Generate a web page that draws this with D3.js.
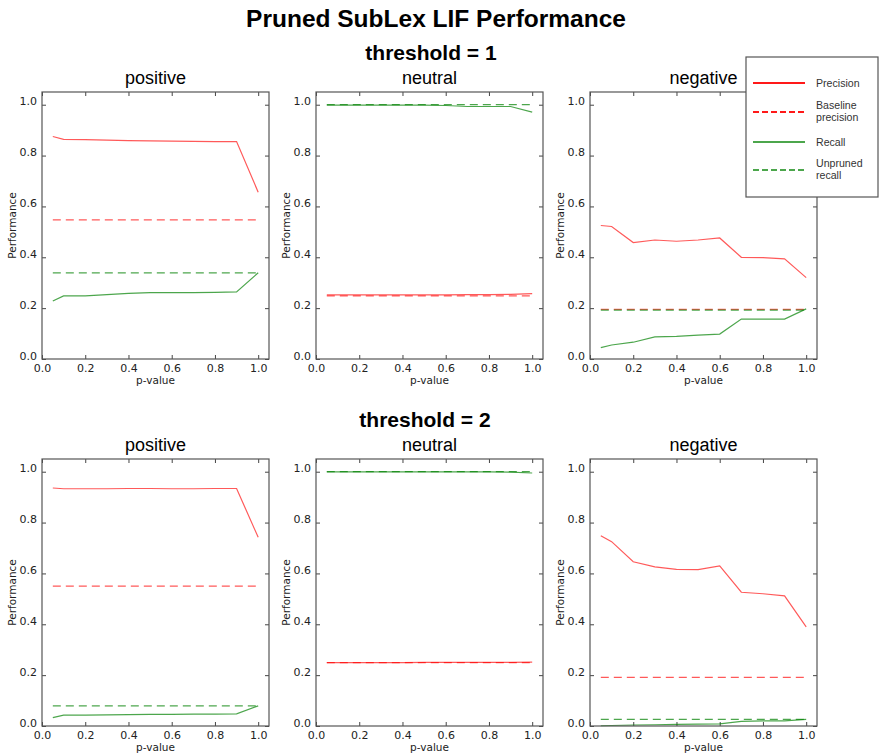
<!DOCTYPE html>
<html>
<head>
<meta charset="utf-8">
<script src="https://cdn.jsdelivr.net/npm/d3@7"></script>
<style>
  body { margin: 0; background: #fff; }
  svg { display: block; }
  .tick text { font-family: "DejaVu Sans", sans-serif; font-size: 11px; fill: #222; }
  .tick line { stroke: #444; }
</style>
</head>
<body>
<svg id="chart"></svg>
<script>
// p-values on the x axis
const pValues = [0.05, 0.1, 0.2, 0.3, 0.4, 0.5, 0.6, 0.7, 0.8, 0.9, 1.0];
const classes = ['positive', 'neutral', 'negative'];
const thresholds = ['threshold = 1', 'threshold = 2'];
const tickValues = [0, 0.2, 0.4, 0.6, 0.8, 1.0];

// threshold = 1
const t1PosPrecision = [0.875, 0.864, 0.863, 0.861, 0.859, 0.858, 0.857, 0.856, 0.855, 0.855, 0.656];
const t1PosBaseline = 0.547;
const t1PosRecall = [0.228, 0.248, 0.248, 0.253, 0.258, 0.261, 0.261, 0.261, 0.262, 0.264, 0.339];
const t1PosUnpruned = 0.339;

const t1NeuPrecision = [0.252, 0.252, 0.252, 0.252, 0.252, 0.252, 0.252, 0.253, 0.253, 0.254, 0.257];
const t1NeuBaseline = 0.248;
const t1NeuRecall = [0.998, 0.998, 0.998, 0.998, 0.998, 0.998, 0.997, 0.993, 0.993, 0.993, 0.971];
const t1NeuUnpruned = 1.0;

const t1NegPrecision = [0.525, 0.521, 0.458, 0.468, 0.463, 0.468, 0.476, 0.400, 0.399, 0.394, 0.320];
const t1NegBaseline = 0.195;
const t1NegRecall = [0.045, 0.055, 0.066, 0.087, 0.089, 0.094, 0.098, 0.157, 0.157, 0.157, 0.197];
const t1NegUnpruned = 0.192;

// threshold = 2
const t2PosPrecision = [0.936, 0.933, 0.933, 0.933, 0.934, 0.934, 0.933, 0.933, 0.934, 0.934, 0.742];
const t2PosBaseline = 0.55;
const t2PosRecall = [0.033, 0.043, 0.043, 0.044, 0.045, 0.046, 0.046, 0.047, 0.047, 0.048, 0.079];
const t2PosUnpruned = 0.079;

const t2NeuPrecision = [0.249, 0.249, 0.249, 0.249, 0.249, 0.250, 0.250, 0.250, 0.250, 0.250, 0.251];
const t2NeuBaseline = 0.249;
const t2NeuRecall = [0.999, 0.999, 0.999, 0.999, 0.999, 0.999, 0.999, 0.999, 0.999, 0.998, 0.995];
const t2NeuUnpruned = 1.0;

const t2NegPrecision = [0.748, 0.725, 0.646, 0.626, 0.616, 0.615, 0.630, 0.526, 0.520, 0.512, 0.390];
const t2NegBaseline = 0.191;
const t2NegRecall = [0.001, 0.002, 0.004, 0.005, 0.006, 0.007, 0.008, 0.018, 0.020, 0.020, 0.026];
const t2NegUnpruned = 0.026;

const legendLabels = [['Precision'], ['Baseline', 'precision'], ['Recall'], ['Unpruned', 'recall']];

const panels = [
  [ {precision: t1PosPrecision, baseline: t1PosBaseline, recall: t1PosRecall, unpruned: t1PosUnpruned},
    {precision: t1NeuPrecision, baseline: t1NeuBaseline, recall: t1NeuRecall, unpruned: t1NeuUnpruned},
    {precision: t1NegPrecision, baseline: t1NegBaseline, recall: t1NegRecall, unpruned: t1NegUnpruned} ],
  [ {precision: t2PosPrecision, baseline: t2PosBaseline, recall: t2PosRecall, unpruned: t2PosUnpruned},
    {precision: t2NeuPrecision, baseline: t2NeuBaseline, recall: t2NeuRecall, unpruned: t2NeuUnpruned},
    {precision: t2NegPrecision, baseline: t2NegBaseline, recall: t2NegRecall, unpruned: t2NegUnpruned} ]
];

const width = 880, height = 755;
const panelW = 227, panelH = 267;
const panelX = [42, 316, 590];
const rowY = [92, 459];
const red = '#ff0000', green = '#008000';
const sansFont = '"Liberation Sans", Arial, sans-serif';

const svg = d3.select('#chart')
    .attr('width', width)
    .attr('height', height);

svg.append('text')
    .attr('x', 436)
    .attr('y', 27)
    .attr('text-anchor', 'middle')
    .style('font-family', sansFont)
    .style('font-weight', 'bold')
    .style('font-size', '24.5px')
    .text('Pruned SubLex LIF Performance');

const xScale = d3.scaleLinear().domain([0, 1.05]).range([0, panelW]);
const yScale = d3.scaleLinear().domain([0, 1.05]).range([panelH, 0]);

const line = d3.line()
    .x((d, i) => xScale(pValues[i]))
    .y(d => yScale(d));

thresholds.forEach((label, r) => {
  // row heading
  svg.append('text')
      .attr('x', r === 0 ? 431 : 425)
      .attr('y', rowY[r] - 32)
      .attr('text-anchor', 'middle')
      .style('font-family', sansFont)
      .style('font-weight', 'bold')
      .style('font-size', '21px')
      .text(label);

  classes.forEach((cls, c) => {
    const d = panels[r][c];
    const g = svg.append('g')
        .attr('transform', `translate(${panelX[c]},${rowY[r]})`);

    g.append('text')
        .attr('x', panelW / 2)
        .attr('y', -8.5)
        .attr('text-anchor', 'middle')
        .style('font-family', sansFont)
        .style('font-size', '18px')
        .text(cls);

    // axes with inward ticks on all four sides
    g.append('g')
        .attr('transform', `translate(0,${panelH})`)
        .call(d3.axisBottom(xScale).tickValues(tickValues).tickSize(-4).tickPadding(5).tickFormat(d3.format('.1f')))
        .call(a => a.select('.domain').remove());
    g.append('g')
        .call(d3.axisTop(xScale).tickValues(tickValues).tickSize(-4).tickFormat(''))
        .call(a => a.select('.domain').remove());
    g.append('g')
        .call(d3.axisLeft(yScale).tickValues(tickValues).tickSize(-4).tickPadding(5).tickFormat(d3.format('.1f')))
        .call(a => a.select('.domain').remove());
    g.append('g')
        .attr('transform', `translate(${panelW},0)`)
        .call(d3.axisRight(yScale).tickValues(tickValues).tickSize(-4).tickFormat(''))
        .call(a => a.select('.domain').remove());

    g.selectAll('.tick text').attr('dy', null);
    g.selectAll('.tick text').filter(function () { return this.parentNode.parentNode.getAttribute('transform'); })
        .attr('dy', '0.71em');

    // series
    const flat = v => pValues.map(() => v);
    g.append('path').datum(flat(d.baseline)).attr('d', line)
        .attr('fill', 'none').attr('stroke', red).attr('stroke-opacity', 0.65)
        .attr('stroke-width', 1.2).attr('stroke-dasharray', '8,5');
    g.append('path').datum(flat(d.unpruned)).attr('d', line)
        .attr('fill', 'none').attr('stroke', green).attr('stroke-opacity', 0.7)
        .attr('stroke-width', 1.2).attr('stroke-dasharray', '8,5');
    g.append('path').datum(d.precision).attr('d', line)
        .attr('fill', 'none').attr('stroke', red).attr('stroke-opacity', 0.65)
        .attr('stroke-width', 1.2);
    g.append('path').datum(d.recall).attr('d', line)
        .attr('fill', 'none').attr('stroke', green).attr('stroke-opacity', 0.7)
        .attr('stroke-width', 1.2);

    g.append('rect')
        .attr('width', panelW)
        .attr('height', panelH)
        .attr('fill', 'none')
        .attr('stroke', '#555')
        .attr('stroke-width', 1.2);

    g.append('text')
        .attr('x', panelW / 2)
        .attr('y', panelH + 25)
        .attr('text-anchor', 'middle')
        .style('font-family', '"DejaVu Sans", sans-serif')
        .style('font-size', '10.5px')
        .style('fill', '#222')
        .text('p-value');

    g.append('text')
        .attr('transform', `translate(-26,${panelH / 2}) rotate(-90)`)
        .attr('text-anchor', 'middle')
        .style('font-family', '"DejaVu Sans", sans-serif')
        .style('font-size', '10.5px')
        .style('fill', '#222')
        .text('Performance');
  });
});

// legend
const legend = svg.append('g').attr('transform', 'translate(746,57)');
legend.append('rect')
    .attr('width', 132)
    .attr('height', 140)
    .attr('fill', '#fff')
    .attr('stroke', '#555')
    .attr('stroke-width', 1.2);

const legendStyles = [
  {color: red, dash: null, y: 26},
  {color: red, dash: '6,3', y: 55},
  {color: green, dash: null, y: 85},
  {color: green, dash: '6,3', y: 113}
];

legendStyles.forEach((s, i) => {
  legend.append('line')
      .attr('x1', 7).attr('x2', 59)
      .attr('y1', s.y).attr('y2', s.y)
      .attr('stroke', s.color)
      .attr('stroke-opacity', s.color === green ? 0.7 : 0.9)
      .attr('stroke-width', 2)
      .attr('stroke-dasharray', s.dash);
  const lines = legendLabels[i];
  const t = legend.append('text')
      .attr('x', 70)
      .style('font-family', sansFont)
      .style('font-size', '10.6px')
      .style('fill', '#333');
  lines.forEach((txt, k) => {
    t.append('tspan')
        .attr('x', 70)
        .attr('y', lines.length === 1 ? s.y + 3.5 : s.y - 3 + k * 12)
        .text(txt);
  });
});
</script>
</body>
</html>
